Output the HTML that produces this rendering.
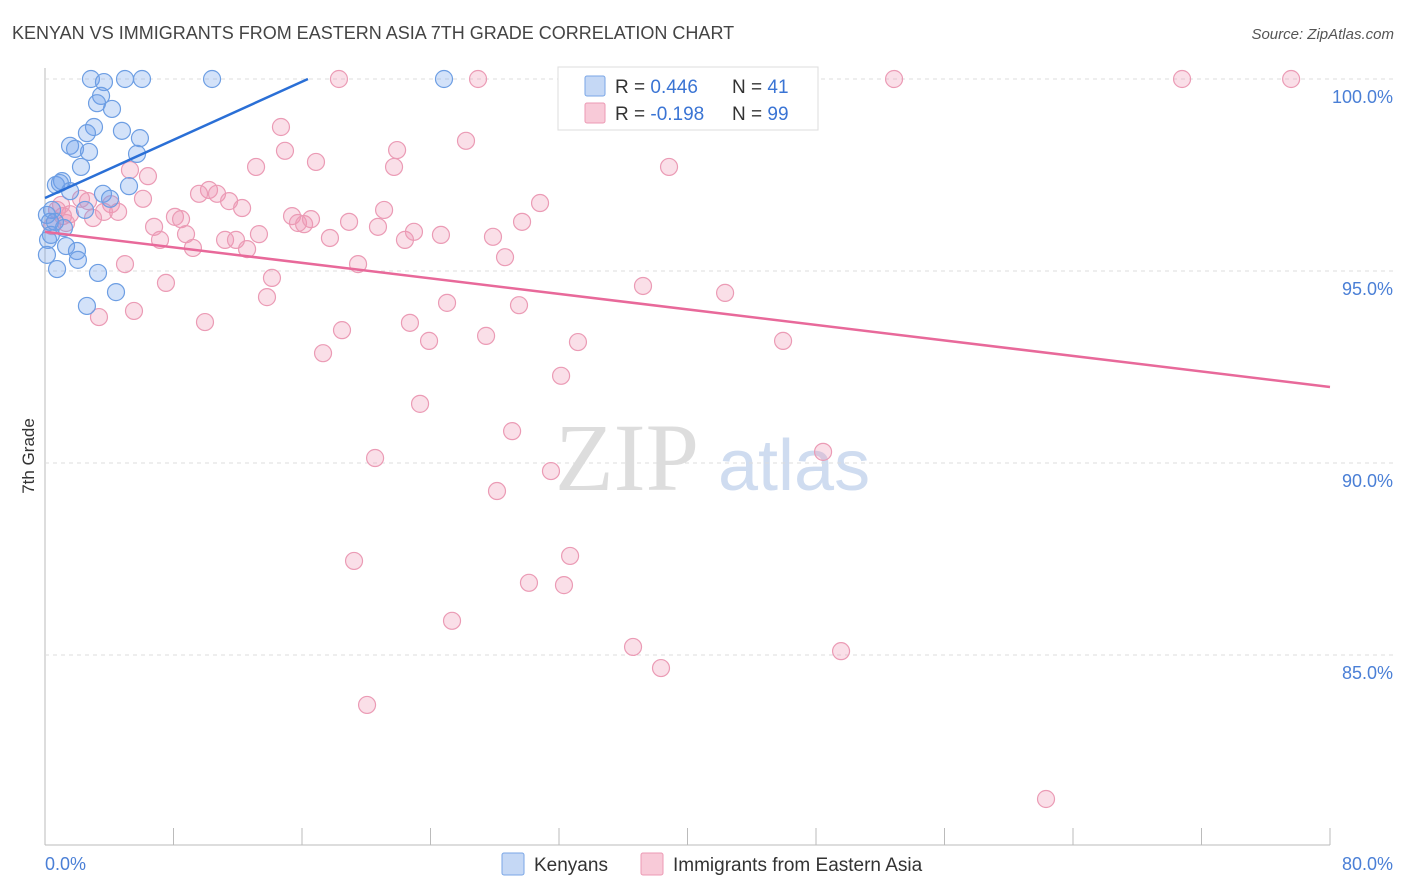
<!DOCTYPE html>
<html><head><meta charset="utf-8"><style>
body{margin:0;background:#fff;font-family:"Liberation Sans",sans-serif;}
#wrap{position:relative;width:1406px;height:892px;overflow:hidden}
</style></head><body><div id="wrap">
<svg id="svg" width="1406" height="892" xmlns="http://www.w3.org/2000/svg">
<text x="12" y="39" font-size="18" fill="#444">KENYAN VS IMMIGRANTS FROM EASTERN ASIA 7TH GRADE CORRELATION CHART</text>
<text x="1394" y="39" font-size="15" fill="#555" font-style="italic" text-anchor="end">Source: ZipAtlas.com</text>
<text x="34" y="456" font-size="17" fill="#333" transform="rotate(-90 34 456)" text-anchor="middle">7th Grade</text>
<text x="555" y="490" font-size="96" fill="#ddd" font-family="Liberation Serif,serif">ZIP</text>
<text x="718" y="490" font-size="72" fill="#cfdcf0">atlas</text>
<g id="grid"></g><g id="pts"></g><g id="lines"></g>
<text x="45" y="870" font-size="18" fill="#4a7fd6">0.0%</text>
<text x="1393" y="870" font-size="18" fill="#4a7fd6" text-anchor="end">80.0%</text>
<g>
<rect x="558" y="67" width="260" height="63" fill="#fff" stroke="#ddd"/>
<rect x="585" y="76" width="20" height="20" fill="#c5d8f5" stroke="#7aa6e6" rx="2"/>
<rect x="585" y="103" width="20" height="20" fill="#f8cad8" stroke="#ec9ab4" rx="2"/>
<text x="615" y="93" font-size="19" fill="#333">R = <tspan fill="#3a74d4">0.446</tspan><tspan x="732">N = </tspan><tspan fill="#3a74d4">41</tspan></text>
<text x="615" y="120" font-size="19" fill="#333">R = <tspan fill="#3a74d4">-0.198</tspan><tspan x="732">N = </tspan><tspan fill="#3a74d4">99</tspan></text>
</g>
<g>
<rect x="502" y="853" width="22" height="22" fill="#c5d8f5" stroke="#7aa6e6" rx="2"/>
<text x="534" y="871" font-size="19" fill="#333">Kenyans</text>
<rect x="641" y="853" width="22" height="22" fill="#f8cad8" stroke="#ec9ab4" rx="2"/>
<text x="673" y="871" font-size="19" fill="#333">Immigrants from Eastern Asia</text>
</g>
</svg>
<script>
const blueX=[2.86,3.67,4.98,6.04,10.40,24.84,3.49,3.24,4.17,3.05,4.79,2.61,5.91,1.56,1.87,2.74,5.73,2.24,0.68,1.06,1.56,5.23,3.61,4.05,2.49,0.44,0.31,1.18,0.19,1.31,1.99,0.12,2.05,0.75,3.30,4.42,2.61,0.12,0.37,0.93,0.62];
const blueY=[100,99.92,100,100,100,100,99.56,99.37,99.22,98.75,98.65,98.59,98.46,98.26,98.18,98.10,98.05,97.71,97.24,97.34,97.08,97.21,97.01,96.88,96.59,96.59,96.28,96.12,95.81,95.65,95.52,95.42,95.29,95.05,94.95,94.45,94.09,96.46,95.94,97.29,96.28];
const pinkX=[18.30,26.96,34.24,37.67,40.72,42.96,52.86,70.79,77.58,14.69,26.21,14.94,21.92,16.87,13.14,21.73,38.85,6.41,5.29,10.21,9.59,10.71,11.46,12.27,6.10,4.11,2.68,2.24,4.55,3.67,1.56,1.12,0.75,0.44,1.31,6.79,8.09,8.47,8.78,7.16,9.21,11.21,11.89,12.58,13.32,15.38,15.75,16.13,16.56,17.74,18.93,20.73,21.11,22.41,22.97,24.65,27.89,29.70,30.82,28.64,19.49,4.98,14.13,13.82,7.53,3.36,5.54,9.96,25.03,29.51,37.23,42.34,22.72,18.49,17.31,23.91,27.46,33.18,45.95,32.13,23.35,29.08,20.55,48.44,31.50,28.14,19.24,32.69,30.13,32.31,25.34,36.61,38.35,49.56,20.05,62.32,1.00,2.99];
const pinkY=[100,100,100,100,100,100,100,100,100,98.75,98.39,98.13,98.15,97.84,97.71,97.71,97.71,97.47,97.63,97.11,97.01,97.01,96.82,96.64,96.88,96.74,96.82,96.88,96.54,96.54,96.48,96.43,96.59,96.17,96.25,96.15,96.41,96.35,95.96,95.81,95.60,95.81,95.81,95.57,95.96,96.43,96.25,96.22,96.35,95.86,96.28,96.15,96.59,95.81,96.02,95.94,95.89,96.28,96.77,95.36,95.18,95.18,94.82,94.32,94.69,93.80,93.96,93.67,94.17,94.11,94.61,94.43,93.65,93.46,92.86,93.18,93.31,93.15,93.18,92.27,91.54,90.83,90.13,90.29,89.79,89.27,87.45,87.58,86.88,86.82,85.89,85.21,84.66,85.10,83.70,81.25,96.72,96.38];
const yTicks=[100,95,90,85];
const yTickLabels=["100.0%","95.0%","90.0%","85.0%"];
const xTicks=[0,8,16,24,32,40,48,56,64,72,80];
const blueTrend=[0,96.90,16.37,100];
const pinkTrend=[0,96.02,80,91.98];
const NS="http://www.w3.org/2000/svg";
const sx=v=>45+v/80*1285, sy=v=>79+(100-v)/5*192;
function mk(t,a,p){const e=document.createElementNS(NS,t);for(const k in a)e.setAttribute(k,a[k]);p.appendChild(e);return e;}
const grid=document.getElementById('grid');
const ax=mk('line',{x1:45,y1:68,x2:45,y2:845,stroke:'#bbb'},grid);


const bx=mk('line',{x1:45,y1:845,x2:1330,y2:845,stroke:'#bbb'},grid);


yTicks.forEach((t,i)=>{
 const g=mk('line',{x1:45,x2:1393,y1:sy(t),y2:sy(t),stroke:'#ddd','stroke-dasharray':'4,4'},grid);
 
 
 const l=mk('text',{x:1393,y:sy(t)+24,'font-size':18,fill:'#4a7fd6','text-anchor':'end'},grid);
 l.textContent=yTickLabels[i];
 
 
});
xTicks.forEach(t=>{
 const k=mk('line',{x1:sx(t),x2:sx(t),y1:828,y2:845,stroke:'#bbb'},grid);
 
 
});
const pts=document.getElementById('pts');
pinkX.forEach((x,i)=>{
 const c=mk('circle',{cx:sx(x),cy:sy(pinkY[i]),r:8.5,fill:'rgba(240,150,180,0.3)',stroke:'#eb9bb5','stroke-width':1.2},pts);
 
 
});
blueX.forEach((x,i)=>{
 const c=mk('circle',{cx:sx(x),cy:sy(blueY[i]),r:8.5,fill:'rgba(110,160,235,0.3)',stroke:'#6d9ee3','stroke-width':1.2},pts);
 
 
});
const lines=document.getElementById('lines');
const bl=mk('line',{x1:sx(blueTrend[0]),y1:sy(blueTrend[1]),x2:sx(blueTrend[2]),y2:sy(blueTrend[3]),stroke:'#2a6fd6','stroke-width':2.5},lines);


const pl=mk('line',{x1:sx(pinkTrend[0]),y1:sy(pinkTrend[1]),x2:sx(pinkTrend[2]),y2:sy(pinkTrend[3]),stroke:'#e8699a','stroke-width':2.5},lines);


</script>
</div></body></html>
